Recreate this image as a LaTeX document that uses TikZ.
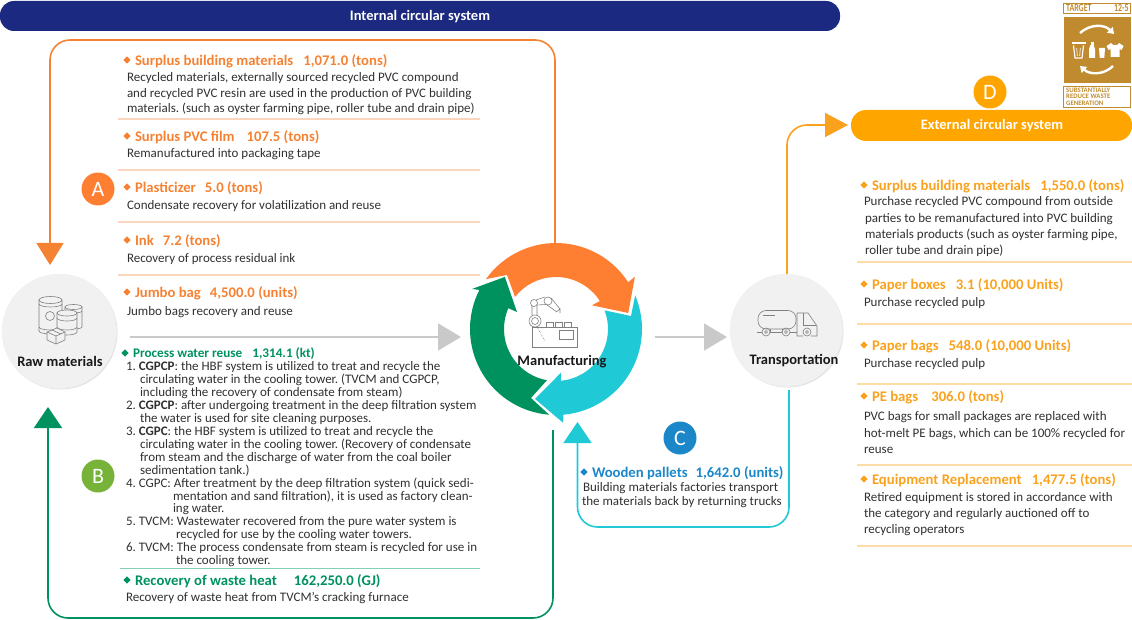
\documentclass[tikz,border=0pt]{standalone}
\usepackage{fontspec}
\usepackage{graphicx}
\setmainfont{Carlito}
\usetikzlibrary{arrows.meta,shapes.geometric,calc}
\AtBeginDocument{\frenchspacing}
\definecolor{navy}{HTML}{1B2A80}
\definecolor{org}{HTML}{F58232}
\definecolor{orgring}{HTML}{FF7F32}
\definecolor{ext}{HTML}{FAA21E}
\definecolor{extbar}{HTML}{FFA500}
\definecolor{grn}{HTML}{00925E}
\definecolor{teal2}{HTML}{1FC9D6}
\definecolor{blu}{HTML}{1B87C9}
\definecolor{lime}{HTML}{78B339}
\definecolor{body}{HTML}{303030}
\definecolor{gold}{HTML}{BF8B2E}
\definecolor{icon}{HTML}{808080}
\definecolor{hubfill}{HTML}{F1F1F1}
\definecolor{ruleo}{HTML}{FBD6BE}
\definecolor{rulee}{HTML}{FDDCA6}
\definecolor{ruleg}{HTML}{80D2B2}
\definecolor{arrowgrey}{HTML}{C9C9C9}
\newcounter{tc}
\tikzset{
  txt/.style={anchor=base west,inner sep=0pt,outer sep=0pt,text=body,font=\fontsize{13}{14}\selectfont},
  wtxt/.style={txt},
  ttl/.style={anchor=base west,inner sep=0pt,outer sep=0pt,yshift=-0.8pt,font=\fontsize{14.7}{16}\selectfont\bfseries},
  badge/.style={circle,minimum size=33pt,inner sep=0pt,text=white,font=\fontsize{22}{24}\selectfont},
  hub/.style={circle,minimum size=114pt,inner sep=0pt,fill=hubfill},
  hubtxt/.style={inner sep=0pt,text=black!90,font=\fontsize{14.5}{16}\selectfont\bfseries},
  barl/.style={inner sep=0,text=white,font=\fontsize{14.5}{16}\selectfont\bfseries},
  loopline/.style={line width=1.6pt,rounded corners=20pt},
  ic/.style={draw=icon,line width=.6pt},
  icf/.style={ic,fill=hubfill},
  rl/.style={line width=1.2pt},
  garrow/.style={draw=arrowgrey,line width=1.6pt,-{Triangle[width=27pt,length=23pt]}},
  btxt/.style={anchor=base west,inner sep=0pt,text=gold,font=\fontsize{6.8}{8}\selectfont\bfseries},
  btop/.style={btxt,font=\fontsize{11}{12}\selectfont\bfseries},
}
\newcommand{\tl}[4]{\stepcounter{tc}\node[#1,name=t\arabic{tc}] at (#2,#3) {#4};}
\newcommand{\dm}[3]{\fill[#1] (#2-3.6,#3) -- (#2,#3-3.6) -- (#2+3.6,#3) -- (#2,#3+3.6) -- cycle;}
\begin{document}
\begin{tikzpicture}[x=1pt,y=-1pt]
\useasboundingbox (0,0) rectangle (1132,620);
% bars
\fill[navy,rounded corners=14pt] (0,1) rectangle (840,31);
\node[barl] (ibar) at (420,17) {Internal circular system};
\fill[extbar,rounded corners=15pt] (851,110) -- (1132,110) -- (1132,141) -- (851,141) -- cycle;
\node[barl] (ebar) at (992,125.5) {External circular system};
% hubs
\fill[black!13] (60.5,332.5) circle[radius=57];
\fill[black!7] (59.5,331.5) circle[radius=57.5];
\node[hub] (raw) at (59,331) {};
\fill[black!13] (787.5,331.5) circle[radius=56];
\fill[black!7] (786.5,330.5) circle[radius=56.5];
\node[hub,minimum size=112pt] (trans) at (786,330) {};
\coordinate (c) at (556,329);
% coordinates for loops
\coordinate (otop) at (555,245); \coordinate (oa) at (555,40); \coordinate (ob) at (50,40); \coordinate (oend) at (50,265);
\coordinate (gtop) at (553,430); \coordinate (ga) at (553,618); \coordinate (gb) at (48,618); \coordinate (gend) at (48,407);
\coordinate (ctop) at (789,390); \coordinate (ca) at (789,527); \coordinate (cb) at (577.5,527); \coordinate (cend) at (577.5,422);
\coordinate (etop) at (787,274); \coordinate (ea) at (787,125); \coordinate (eend) at (848,125);
\coordinate (g1) at (130,337); \coordinate (g1e) at (461,337);
\coordinate (g2) at (655,337); \coordinate (g2e) at (727,337);
\draw[loopline,draw=org,-{Triangle[width=27pt,length=22pt]}] (otop) -- (oa) -- (ob) -- (oend);
\draw[loopline,draw=grn,-{Triangle[width=28pt,length=21pt]}] (gtop) -- (ga) -- (gb) -- (gend);
\draw[loopline,draw=teal2,-{Triangle[width=28pt,length=21pt]}] (ctop) -- (ca) -- (cb) -- (cend);
\draw[loopline,draw=ext,-{Triangle[width=24pt,length=23pt]}] (etop) -- (ea) -- (eend);
\draw[garrow] (g1) -- (g1e);
\draw[garrow] (g2) -- (g2e);
% ring
\fill[orgring] ($(c)+(215.5:86)$) arc[start angle=215.5,end angle=327,radius=86] -- ($(c)+(326.5:94.6)$) -- ($(c)+(347.5:74)$) -- ($(c)+(326.5:43)$) -- ($(c)+(327.5:52)$) arc[start angle=327.5,end angle=218,radius=52] -- (507,275) -- cycle;
\fill[teal2] ($(c)+(337:86)$) arc[start angle=337,end angle=445,radius=86] -- ($(c)+(85.7:94)$) -- ($(c)+(106.7:73)$) -- ($(c)+(83.5:44)$) -- ($(c)+(84.5:52)$) arc[start angle=84.5,end angle=-21,radius=52] -- (631,316) -- cycle;
\fill[grn] ($(c)+(94.6:86)$) arc[start angle=94.6,end angle=207,radius=86] -- ($(c)+(205.5:93)$) -- ($(c)+(225.5:73)$) -- ($(c)+(203.5:42.5)$) -- ($(c)+(203.6:52)$) arc[start angle=203.6,end angle=100,radius=52] -- (531,398) -- cycle;
% raw icon
\begin{scope}
\draw[ic] (39,300) -- (39,331) arc[start angle=180,end angle=0,x radius=11.5,y radius=3] -- (62,300);
\draw[ic] (50.5,300) ellipse[x radius=11.5,y radius=3.5];
\draw[ic] (39,304) arc[start angle=180,end angle=0,x radius=11.5,y radius=3];
\draw[ic] (39,327) arc[start angle=180,end angle=0,x radius=11.5,y radius=3];
\draw[ic] (50,316) circle[radius=4.5];
\draw[icf] (65,307) -- (65,327) arc[start angle=180,end angle=0,x radius=8.5,y radius=2] -- (82,307) -- cycle;
\draw[icf] (73.5,307) ellipse[x radius=8.5,y radius=2.5];
\draw[ic] (65,311) arc[start angle=180,end angle=0,x radius=8.5,y radius=2];
\draw[icf] (57,313) -- (57,332) arc[start angle=180,end angle=0,x radius=10,y radius=3] -- (77,313) -- cycle;
\draw[icf] (67,313) ellipse[x radius=10,y radius=3];
\draw[ic] (57,318) arc[start angle=180,end angle=0,x radius=10,y radius=3];
\draw[ic] (57,327) arc[start angle=180,end angle=0,x radius=10,y radius=3];
\draw[icf] (47,332) -- (57,328) -- (65,332) -- (65,340) -- (56,344) -- (47,340) -- cycle;
\draw[ic] (47,332) -- (56,336) -- (65,332) (56,336) -- (56,344) (52,330) -- (61,334);
% robot
\draw[ic] (532,327) rectangle (577,347);
\draw[ic] (546,327) -- (546,322) -- (553,322) -- (553,327) (555,327) -- (555,322) -- (562,322) -- (562,327) (564,327) -- (564,322) -- (571,322) -- (571,327);
\draw[ic] (559,330) rectangle (573,339);
\draw[ic] (535,321) circle[radius=6] (535,321) circle[radius=3.5];
\draw[ic] (534,303) circle[radius=3.5] (548,301) circle[radius=4];
\draw[ic] (532,306) -- (532,315) (537,306) -- (537,315) (536,300) -- (545,297) (537,305) -- (546,304.5);
\draw[ic] (551,298) -- (560,309) (547,305) -- (557,312) (556,312) -- (560,309) -- (560,313);
\draw[ic,densely dotted] (537,327) -- (545,341);
% truck
\draw[ic,rounded corners=8pt] (758,310.5) rectangle (796,329);
\draw[ic] (763,315) -- (775,315);
\draw[ic] (797,313) -- (808,313) -- (817,326) -- (817,336) -- (811,336) (803,336) -- (797,336) -- (797,313);
\draw[ic] (803,313) -- (803,325) -- (816,325);
\draw[ic] (757,332) -- (762,332) (770,332) -- (782,332) (790,332) -- (797,332);
\draw[ic] (770,329) -- (770,332) (782,329) -- (782,332);
\draw[ic] (766,332) circle[radius=4] (766,332) circle[radius=1.5];
\draw[ic] (786,332) circle[radius=4] (786,332) circle[radius=1.5];
\draw[ic] (807,332) circle[radius=4] (807,332) circle[radius=1.5];
\end{scope}
% hub labels
\node[hubtxt] (rawl) at (60,361) {Raw materials};
\node[hubtxt] (manl) at (562,361.5) {Manufacturing};
\node[hubtxt] (trl) at (794,361) {Transportation};
% letter badges
\node[badge,fill=orgring] (A) at (98,189) {A};
\node[badge,fill=lime] (B) at (98,476) {B};
\node[badge,fill=blu] (C) at (680,438) {C};
\node[badge,fill=extbar] (D) at (990,92) {D};
% rules
\foreach \y in {119,170,222,275} \draw[rl,ruleo] (118,\y) -- (480,\y);
\draw[rl,ruleg] (120,568.5) -- (480,568.5);
\foreach \y in {262,324,384,465,546} \draw[rl,rulee] (857,\y) -- (1132,\y);
% left orange
\dm{org}{127}{60}\tl{ttl,text=org}{135}{65}{Surplus building materials\hspace{10pt}1,071.0 (tons)}
\tl{txt}{127}{82}{Recycled materials, externally sourced recycled PVC compound}
\tl{txt}{127}{98}{and recycled PVC resin are used in the production of PVC building}
\tl{txt}{127}{113}{materials. (such as oyster farming pipe, roller tube and drain pipe)}
\dm{org}{127}{136}\tl{ttl,text=org}{135}{141}{Surplus PVC film\hspace{12pt}107.5 (tons)}
\tl{txt}{127}{158}{Remanufactured into packaging tape}
\dm{org}{127}{187}\tl{ttl,text=org}{135}{192}{Plasticizer\hspace{9pt}5.0 (tons)}
\tl{txt}{127}{210}{Condensate recovery for volatilization and reuse}
\dm{org}{127}{240}\tl{ttl,text=org}{135}{245}{Ink\hspace{9pt}7.2 (tons)}
\tl{txt}{127}{262}{Recovery of process residual ink}
\dm{org}{127}{292}\tl{ttl,text=org}{135}{297}{Jumbo bag\hspace{9pt}4,500.0 (units)}
\tl{txt}{127}{315}{Jumbo bags recovery and reuse}
% process water
\dm{grn}{125}{353}
\tl{ttl,text=grn,font=\fontsize{13.2}{14}\selectfont\bfseries}{133}{357}{Process water reuse\hspace{10pt}1,314.1 (kt)}
\tl{wtxt}{126}{370}{1. \textbf{CGPCP}: the HBF system is utilized to treat and recycle the}
\tl{wtxt}{140}{383}{circulating water in the cooling tower. (TVCM and CGPCP,}
\tl{wtxt}{140}{396}{including the recovery of condensate from steam)}
\tl{wtxt}{126}{409}{2. \textbf{CGPCP}: after undergoing treatment in the deep filtration system}
\tl{wtxt}{140}{422}{the water is used for site cleaning purposes.}
\tl{wtxt}{126}{435}{3. \textbf{CGPC}: the HBF system is utilized to treat and recycle the}
\tl{wtxt}{140}{448}{circulating water in the cooling tower. (Recovery of condensate}
\tl{wtxt}{140}{461}{from steam and the discharge of water from the coal boiler}
\tl{wtxt}{140}{474}{sedimentation tank.)}
\tl{wtxt}{126}{487}{4. CGPC: After treatment by the deep filtration system (quick sedi-}
\tl{wtxt}{173}{500}{mentation and sand filtration), it is used as factory clean-}
\tl{wtxt}{173}{512}{ing water.}
\tl{wtxt}{126}{525}{5. TVCM: Wastewater recovered from the pure water system is}
\tl{wtxt}{176}{538}{recycled for use by the cooling water towers.}
\tl{wtxt}{126}{551}{6. TVCM: The process condensate from steam is recycled for use in}
\tl{wtxt}{176}{564}{the cooling tower.}
\dm{grn}{127}{580}\tl{ttl,text=grn}{135}{585}{Recovery of waste heat\hspace{17pt}162,250.0 (GJ)}
\tl{txt}{126}{601}{Recovery of waste heat from TVCM's cracking furnace}
% wooden
\dm{blu}{584}{472}\tl{ttl,text=blu}{592}{476.5}{Wooden pallets\hspace{8pt}1,642.0 (units)}
\tl{txt}{583}{491}{Building materials factories transport}
\tl{txt}{582}{505}{the materials back by returning trucks}
% external
\dm{ext}{864}{185}\tl{ttl,text=ext}{872}{190}{Surplus building materials\hspace{10pt}1,550.0 (tons)}
\tl{txt}{864}{206}{Purchase recycled PVC compound from outside}
\tl{txt}{865}{223}{parties to be remanufactured into PVC building}
\tl{txt}{865}{239}{materials products (such as oyster farming pipe,}
\tl{txt}{865}{255}{roller tube and drain pipe)}
\dm{ext}{864}{284}\tl{ttl,text=ext}{872}{289}{Paper boxes\hspace{10pt}3.1 (10,000 Units)}
\tl{txt}{864}{306}{Purchase recycled pulp}
\dm{ext}{864}{345}\tl{ttl,text=ext}{872}{350}{Paper bags\hspace{10pt}548.0 (10,000 Units)}
\tl{txt}{864}{367}{Purchase recycled pulp}
\dm{ext}{864}{396}\tl{ttl,text=ext}{872}{401}{PE bags\hspace{13pt}306.0 (tons)}
\tl{txt}{864}{420}{PVC bags for small packages are replaced with}
\tl{txt}{864}{437}{hot-melt PE bags, which can be 100\% recycled for}
\tl{txt}{864}{453}{reuse}
\dm{ext}{864}{479}\tl{ttl,text=ext}{872}{484}{Equipment Replacement\hspace{10pt}1,477.5 (tons)}
\tl{txt}{864}{501}{Retired equipment is stored in accordance with}
\tl{txt}{864}{517}{the category and regularly auctioned off to}
\tl{txt}{864}{533}{recycling operators}
% target badge
\draw[gold,line width=.8pt] (1063.5,3.5) rectangle (1130.5,13.5);
\fill[gold] (1063.5,17) rectangle (1131,83);
\draw[gold,line width=.8pt] (1063.5,86.5) rectangle (1130.5,107);
\tl{btop}{1066}{12}{\scalebox{.72}[1]{TARGET}}
\tl{btop}{1114}{12}{\scalebox{.72}[1]{12-5}}
\tl{btxt}{1066}{92.5}{SUBSTANTIALLY}
\tl{btxt}{1066}{99}{REDUCE WASTE}
\tl{btxt}{1066}{105.5}{GENERATION}
\begin{scope}[white]
\draw[line width=2.4pt,-{Triangle[width=8pt,length=6pt]}] (1080,33) .. controls (1090,24) and (1104,24) .. (1114,34);
\draw[line width=2.4pt,-{Triangle[width=8pt,length=6pt]}] (1113,66) .. controls (1104,75) and (1090,75) .. (1080,66);
% trash
\fill (1071.5,42) rectangle (1085.5,44.5);
\draw[line width=1.2pt] (1073.5,45.5) -- (1075,58) -- (1082,58) -- (1083.5,45.5);
\draw[line width=.7pt] (1076.7,48) -- (1077.3,56) (1080.3,48) -- (1079.7,56);
% bottle
\fill (1090.5,42) rectangle (1093.5,45);
\fill (1090.5,45) -- (1093.5,45) -- (1095,49) -- (1095,58) -- (1089,58) -- (1089,49) -- cycle;
% cup
\fill (1099,48) -- (1105,48) -- (1104.3,58) -- (1099.7,58) -- cycle;
% shirt
\fill (1111,43) -- (1113,45) -- (1117,45) -- (1119,43) -- (1123.5,46) -- (1121.5,50) -- (1119.5,49) -- (1119.5,57) -- (1110.5,57) -- (1110.5,49) -- (1108.5,50) -- (1106.5,46) -- cycle;
\end{scope}
\end{tikzpicture}
\end{document}
